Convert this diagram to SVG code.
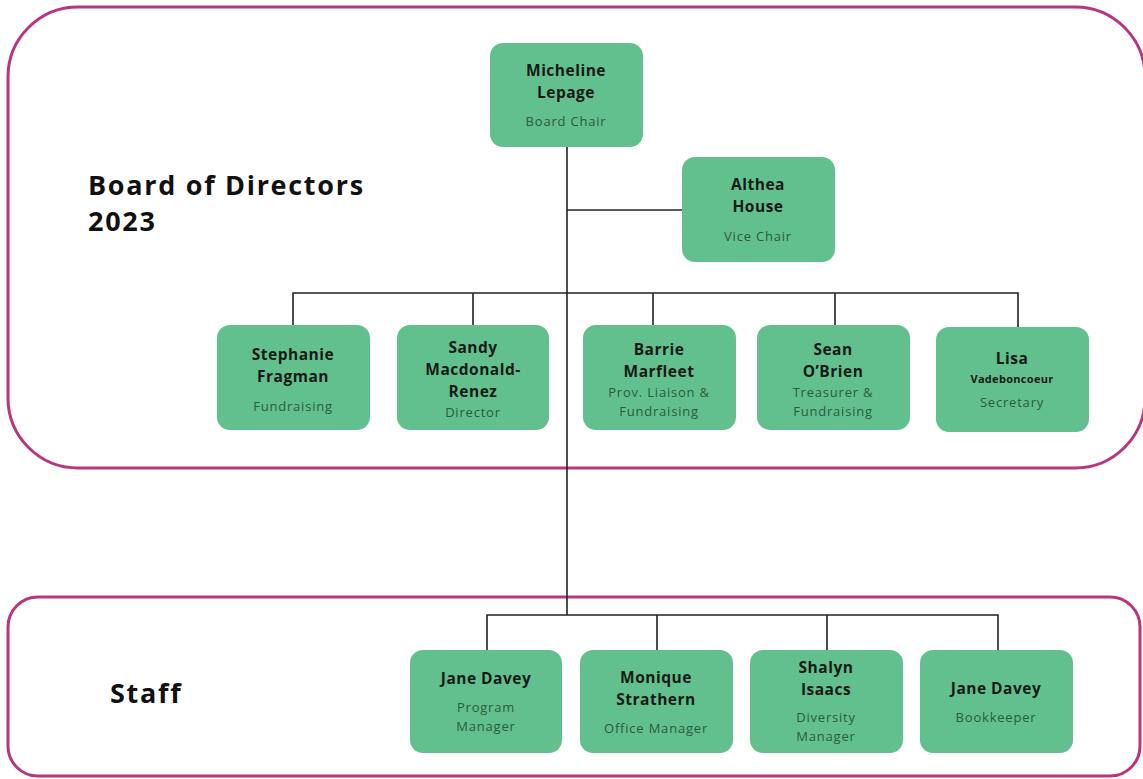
<svg xmlns="http://www.w3.org/2000/svg" width="1143" height="779" viewBox="0 0 1143 779">
<style>
.frame{fill:none;stroke:#b8367e;stroke-width:3}
.node{fill:#62c08e}
.n{font-family:"Open Sans","Liberation Sans",sans-serif;font-weight:bold;font-size:15.5px;letter-spacing:0.5px;fill:#151a16;text-anchor:middle}
.s{font-family:"Open Sans","Liberation Sans",sans-serif;font-size:13px;letter-spacing:0.8px;fill:#2c5a40;text-anchor:middle}
.big{font-family:"Open Sans","Liberation Sans",sans-serif;font-weight:bold;font-size:27px;letter-spacing:1.7px;fill:#111}
.c{fill:none;stroke:#222;stroke-width:1.6}
</style>
<rect width="1143" height="779" fill="#fff"/>
<rect class="frame" x="8" y="7" width="1137" height="461" rx="70"/>
<rect class="frame" x="8" y="597" width="1132" height="179" rx="30"/>
<text class="big" x="88" y="195">Board of Directors</text>
<text class="big" x="88" y="231">2023</text>
<text class="big" x="110" y="703">Staff</text>
<g id="connectors">
<path class="c" d="M567 147V615"/>
<path class="c" d="M567 210H682"/>
<path class="c" d="M293 325V293H1018V327M473 293V325M653 293V325M835 293V325"/>
<path class="c" d="M487 650V615H998V650M657 615V650M827 615V650"/>
</g>
<g id="micheline"><rect class="node" x="490" y="43" width="153" height="104" rx="13"/><text class="n" x="566" y="76">Micheline</text><text class="n" x="566" y="98">Lepage</text><text class="s" x="566" y="126">Board Chair</text></g>
<g id="althea"><rect class="node" x="682" y="157" width="153" height="105" rx="13"/><text class="n" x="758" y="190">Althea</text><text class="n" x="758" y="212">House</text><text class="s" x="758" y="241">Vice Chair</text></g>
<g id="stephanie"><rect class="node" x="217" y="325" width="153" height="105" rx="13"/><text class="n" x="293" y="360">Stephanie</text><text class="n" x="293" y="382">Fragman</text><text class="s" x="293" y="411">Fundraising</text></g>
<g id="sandy"><rect class="node" x="397" y="325" width="152" height="105" rx="13"/><text class="n" x="473" y="353">Sandy</text><text class="n" x="473" y="375">Macdonald-</text><text class="n" x="473" y="397">Renez</text><text class="s" x="473" y="417">Director</text></g>
<g id="barrie"><rect class="node" x="583" y="325" width="153" height="105" rx="13"/><text class="n" x="659" y="355">Barrie</text><text class="n" x="659" y="377">Marfleet</text><text class="s" x="659" y="397">Prov. Liaison &amp;</text><text class="s" x="659" y="416">Fundraising</text></g>
<g id="sean"><rect class="node" x="757" y="325" width="153" height="105" rx="13"/><text class="n" x="833" y="355">Sean</text><text class="n" x="833" y="377">O’Brien</text><text class="s" x="833" y="397">Treasurer &amp;</text><text class="s" x="833" y="416">Fundraising</text></g>
<g id="lisa"><rect class="node" x="936" y="327" width="153" height="105" rx="13"/><text class="n" x="1012" y="364">Lisa</text><text class="n" x="1012" y="383" style="font-size:11px;letter-spacing:0.3px">Vadeboncoeur</text><text class="s" x="1012" y="407">Secretary</text></g>
<g id="jane1"><rect class="node" x="410" y="650" width="152" height="103" rx="13"/><text class="n" x="486" y="684">Jane Davey</text><text class="s" x="486" y="712">Program</text><text class="s" x="486" y="731">Manager</text></g>
<g id="monique"><rect class="node" x="580" y="650" width="153" height="103" rx="13"/><text class="n" x="656" y="683">Monique</text><text class="n" x="656" y="705">Strathern</text><text class="s" x="656" y="733">Office Manager</text></g>
<g id="shalyn"><rect class="node" x="750" y="650" width="153" height="103" rx="13"/><text class="n" x="826" y="673">Shalyn</text><text class="n" x="826" y="695">Isaacs</text><text class="s" x="826" y="722">Diversity</text><text class="s" x="826" y="741">Manager</text></g>
<g id="jane2"><rect class="node" x="920" y="650" width="153" height="103" rx="13"/><text class="n" x="996" y="694">Jane Davey</text><text class="s" x="996" y="722">Bookkeeper</text></g>
</svg>
